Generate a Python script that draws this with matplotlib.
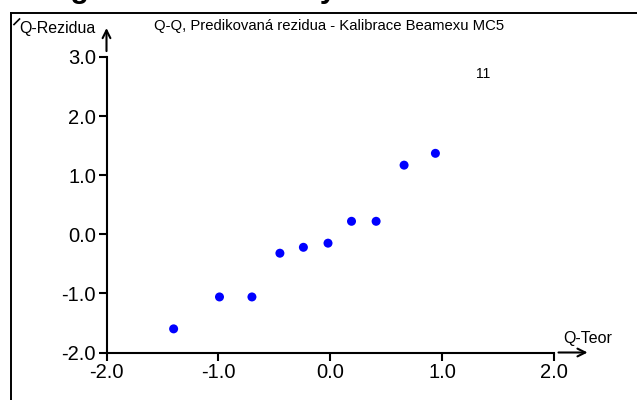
import matplotlib
matplotlib.use("Agg")
import matplotlib.pyplot as plt
from matplotlib.lines import Line2D

plt.rcParams["font.family"] = ["Liberation Sans", "DejaVu Sans"]

# Q-Q data: theoretical quantiles vs. predicted residuals
q_teor = [-1.40, -0.99, -0.70, -0.45, -0.24, -0.02, 0.19, 0.41, 0.66, 0.94]
q_rez = [-1.60, -1.06, -1.06, -0.32, -0.22, -0.15, 0.22, 0.22, 1.17, 1.37]

outlier_label = "11"
outlier_pos = (1.37, 2.72)

x_ticks = [-2.0, -1.0, 0.0, 1.0, 2.0]
y_ticks = [-2.0, -1.0, 0.0, 1.0, 2.0, 3.0]

W, H = 637, 400
fig = plt.figure(figsize=(W / 100, H / 100), dpi=100)
fig.patch.set_facecolor("white")

# panel frame (continues past the right and bottom edges)
fig.add_artist(Line2D([10.5 / W, 10.5 / W], [0, 1 - 12.5 / H],
                      color="black", lw=1.4, transform=fig.transFigure))
fig.add_artist(Line2D([10.5 / W, 1], [1 - 12.5 / H, 1 - 12.5 / H],
                      color="black", lw=1.4, transform=fig.transFigure))
# small stroke at the frame corner
fig.add_artist(Line2D([14 / W, 19.5 / W], [1 - 24.5 / H, 1 - 19 / H],
                      color="black", lw=1.2, transform=fig.transFigure))

# page heading, mostly cut off by the top edge
fig.text(24 / W, 1 + 2 / H, "Diagnostika normality", fontsize=21.5,
         fontweight="bold", ha="left", va="baseline")

left, right, bottom, top = 106.5, 554, 352.5, 57
ax = fig.add_axes([left / W, 1 - bottom / H, (right - left) / W, (bottom - top) / H])

ax.scatter(q_teor, q_rez, s=42, color="#0000ff", edgecolors="none", zorder=3)

ax.set_xlim(-2.0, 2.0)
ax.set_ylim(-2.0, 3.0)
ax.set_xticks(x_ticks)
ax.set_yticks(y_ticks)
ax.set_xticklabels([f"{v:.1f}" for v in x_ticks])
ax.set_yticklabels([f"{v:.1f}" for v in y_ticks])
ax.tick_params(axis="both", direction="out", length=6, width=1.5, labelsize=14.5)
ax.tick_params(axis="x", pad=1.5)
ax.tick_params(axis="y", pad=1.5)

for side in ["top", "right"]:
    ax.spines[side].set_visible(False)
for side in ["left", "bottom"]:
    ax.spines[side].set_linewidth(1.5)

# axis arrows
ax.annotate("", xy=(2.30, -2.0), xytext=(2.04, -2.0), xycoords="data",
            arrowprops=dict(arrowstyle="->", lw=1.5, color="black",
                            mutation_scale=14, shrinkA=0, shrinkB=0),
            annotation_clip=False)
ax.annotate("", xy=(-2.0, 3.49), xytext=(-2.0, 3.10), xycoords="data",
            arrowprops=dict(arrowstyle="->", lw=1.5, color="black",
                            mutation_scale=14, shrinkA=0, shrinkB=0),
            annotation_clip=False)

ax.text(outlier_pos[0], outlier_pos[1], outlier_label, fontsize=10,
        ha="center", va="center")

fig.text(19 / W, 1 - 28 / H, "Q-Rezidua", fontsize=11.5, ha="left", va="center")
fig.text(154 / W, 1 - 26 / H, "Q-Q, Predikovaná rezidua - Kalibrace Beamexu MC5",
         fontsize=10.7, ha="left", va="center")
fig.text(563 / W, 1 - 339 / H, "Q-Teor", fontsize=11.5, ha="left", va="center")

fig.savefig("out.png", dpi=100)
